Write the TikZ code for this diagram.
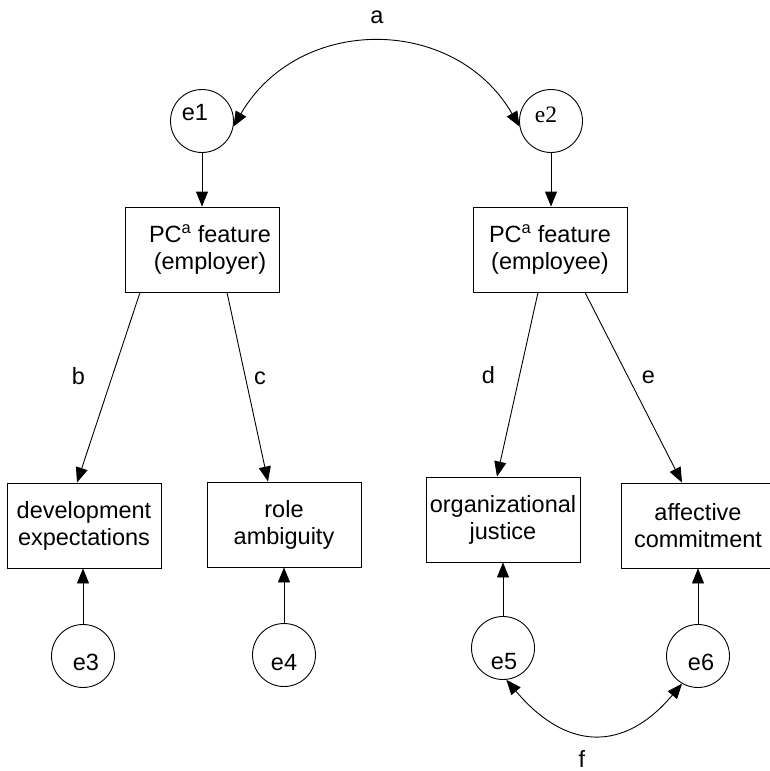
\documentclass[tikz,border=0pt]{standalone}
\usepackage{fontspec}
\setmainfont{Liberation Sans}
\newfontfamily\timesfont{Liberation Serif}
\usetikzlibrary{arrows.meta,calc}
\begin{document}
\begin{tikzpicture}[x=1pt,y=-1pt,
  every node/.style={font=\fontsize{23.5}{27}\selectfont},
  box/.style={draw, line width=0.9pt, rectangle, minimum width=154pt, minimum height=85pt, inner sep=0pt, align=center},
  err/.style={draw, line width=0.9pt, circle, minimum size=63pt, inner sep=0pt},
  arr/.style={line width=0.9pt, -{Triangle[length=15pt,width=12pt]}},
  dbl/.style={line width=0.9pt, {Triangle[length=15pt,width=12pt]}-{Triangle[length=15pt,width=12pt]}},
  lab/.style={inner sep=0pt}]
\useasboundingbox[fill=white] (0,0) rectangle (770,771);

% error circles
\node[err, label={[xshift=-7pt,yshift=8pt]center:e1}] (e1) at (202,121) {};
\node[err, label={[xshift=-5pt,yshift=6.5pt,font=\timesfont\fontsize{23.5}{27}\selectfont]center:e2}] (e2) at (551,121) {};
\node[err, label={[xshift=3pt,yshift=-6pt]center:e3}] (e3) at (83,656) {};
\node[err, label={[xshift=0pt,yshift=-8pt]center:e4}] (e4) at (284,655) {};
\node[err, label={[xshift=1pt,yshift=-14pt]center:e5}] (e5) at (503,648) {};
\node[err, label={[xshift=3pt,yshift=-6.5pt]center:e6}] (e6) at (698,656) {};

% boxes
\node[box] (emr) at (202,249.5) {\hspace*{16pt}PC\textsuperscript{a} feature\\\hspace*{16pt}(employer)};
\node[box] (eme) at (550,249.5) {PC\textsuperscript{a} feature\\(employee)};
\node[box] (dev) at (84,525.5) {development\\expectations};
\node[box] (role) at (284,524.5) {role\\ambiguity};
\node[box] (org) at (503,519.5) {organizational\\justice};
\node[box] (aff) at (698,525.5) {affective\\commitment};

% vertical arrows
\draw[arr] (e1.south) -- (e1.south |- emr.north);
\draw[arr] (e2.south) -- (e2.south |- eme.north);
\draw[arr] (e3.north) -- (e3.north |- dev.south);
\draw[arr] (e4.north) -- (e4.north |- role.south);
\draw[arr] (e5.north) -- (e5.north |- org.south);
\draw[arr] (e6.north) -- (e6.north |- aff.south);

% paths
\draw[arr] ($(emr.south)+(-62,0)$) -- ($(dev.north)+(-7,0)$);
\draw[arr] ($(emr.south)+(25,0)$) -- ($(role.north)+(-16,0)$);
\draw[arr] ($(eme.south)+(-12,0)$) -- ($(org.north)+(-6,0)$);
\draw[arr] ($(eme.south)+(35,0)$) -- ($(aff.north)+(-16,0)$);

% covariances
\draw[dbl] (e1.-10) .. controls ($(e1.-10)+(65,-112)$) and ($(e2.190)+(-65,-112)$) .. (e2.190);
\draw[dbl] (e5.-84) .. controls ($(e5.-84)+(59,70)$) and ($(e6.-120)+(-59,70)$) .. (e6.-120);

% labels
\node[lab] (la) at (377,17) {a};
\node[lab] (lb) at (78.5,376.5) {b};
\node[lab] (lc) at (260,378.5) {c};
\node[lab] (ld) at (488.5,375) {d};
\node[lab] (le) at (648.5,377) {e};
\node[lab] (lf) at (582,759) {f};
\end{tikzpicture}
\end{document}
